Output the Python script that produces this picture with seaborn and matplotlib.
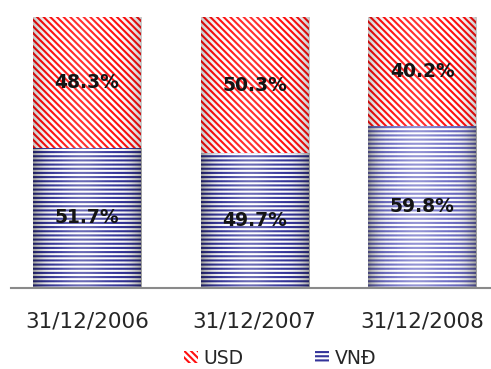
import numpy as np
import pandas as pd
import matplotlib
matplotlib.use("Agg")
import matplotlib.pyplot as plt
from matplotlib.patches import Patch
import seaborn as sns

# Currency structure of deposits at year end (percent)
dates = ["31/12/2006", "31/12/2007", "31/12/2008"]
usd = [48.3, 50.3, 40.2]
vnd = [51.7, 49.7, 59.8]

sns.set_theme(style="white")
plt.rcParams["font.family"] = ["DejaVu Sans"]
plt.rcParams["hatch.linewidth"] = 1.5

df = pd.DataFrame({"date": dates, "USD": usd, "VND": vnd})
df["total"] = df["USD"] + df["VND"]

fig = plt.figure(figsize=(4.91, 3.69), dpi=100)
ax = fig.add_axes([11 / 491, 1 - 288 / 369, 480 / 491, 288 / 369])

red = "#ff1010"
blues = ["#34349a", "#34349a", "#6c6cc4"]
usd_hatch = "\\" * 5
vnd_hatch = "-" * 4

# USD segment sits on top of VND: draw the full stack, then VND over it
sns.barplot(data=df, x="date", y="total", ax=ax, width=0.645,
            color="white", linewidth=0, saturation=1)
usd_bars = list(ax.patches)
sns.barplot(data=df, x="date", y="VND", ax=ax, width=0.645,
            color="white", linewidth=0, saturation=1)
vnd_bars = list(ax.patches)[len(usd_bars):]

for p in usd_bars:
    p.set_facecolor("white")
    p.set_edgecolor(red)
    p.set_linewidth(0)
    p.set_hatch(usd_hatch)
for p, c in zip(vnd_bars, blues):
    p.set_facecolor("white")
    p.set_edgecolor(c)
    p.set_linewidth(0)
    p.set_hatch(vnd_hatch)

# Soft cylinder shading across each bar
t = np.linspace(0, 1, 200)
dark = np.zeros((1, t.size, 4))
dark[..., 3] = 0.22 * (1 - np.sin(np.pi * t)) ** 3
light = np.ones((1, t.size, 4))
light[..., 3] = 0.15 * np.exp(-((t - 0.45) / 0.2) ** 2)
for p in usd_bars + vnd_bars:
    x0, y0 = p.get_x(), p.get_y()
    ext = (x0, x0 + p.get_width(), y0, y0 + p.get_height())
    for img in (dark, light):
        im = ax.imshow(img, extent=ext, aspect="auto", zorder=p.get_zorder() + 0.1,
                       interpolation="bilinear")
        im.set_clip_path(p)

# Value labels centred in each segment
for i in range(len(dates)):
    ax.text(i, vnd[i] + usd[i] / 2, f"{usd[i]:.1f}%", ha="center", va="center",
            fontsize=13.5, fontweight="bold", color="#141414", zorder=10)
    ax.text(i, vnd[i] / 2, f"{vnd[i]:.1f}%", ha="center", va="center",
            fontsize=13.5, fontweight="bold", color="#141414", zorder=10)

ax.set_xlim(-0.454, 2.41)
ax.set_ylim(0, 106.3)
ax.set_xlabel("")
ax.set_ylabel("")
ax.set_yticks([])
ax.tick_params(axis="x", length=0, pad=17, labelsize=15.5, labelcolor="#262626")
for side in ("top", "right", "left"):
    ax.spines[side].set_visible(False)
ax.spines["bottom"].set_color("#8a8a8a")
ax.spines["bottom"].set_linewidth(1.5)

handles = [
    Patch(facecolor="white", edgecolor=red, hatch=usd_hatch, linewidth=0, label="USD"),
    Patch(facecolor="white", edgecolor=blues[0], hatch=vnd_hatch, linewidth=0, label="VNĐ"),
]
fig.legend(handles=handles, loc="center", bbox_to_anchor=(280 / 491, 1 - 358 / 369),
           ncol=2, frameon=False, fontsize=13.5, handlelength=0.75, handleheight=0.6,
           handletextpad=0.3, columnspacing=3.8, labelcolor="#262626")

fig.savefig("out.png", dpi=100)
